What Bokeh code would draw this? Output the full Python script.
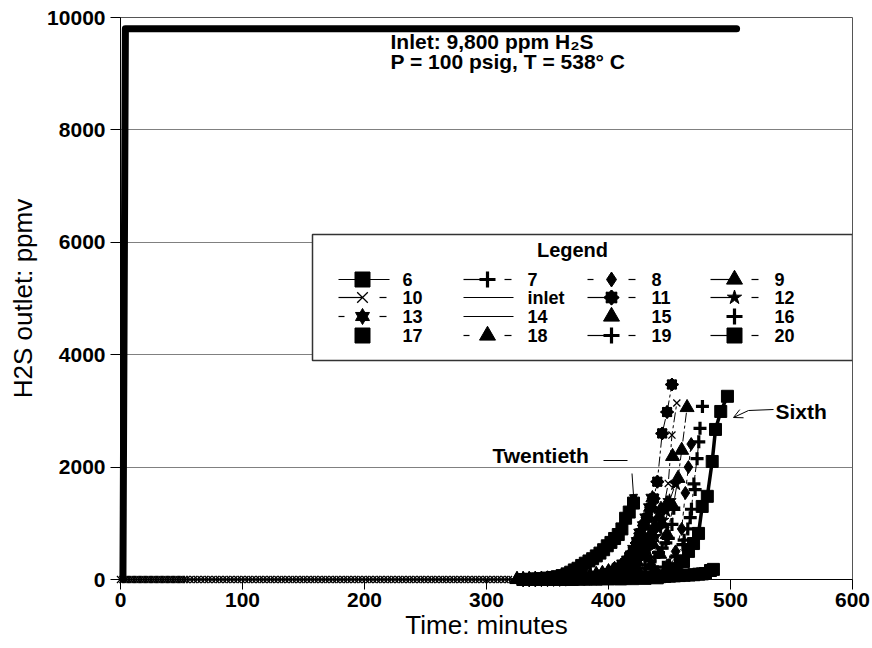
import numpy as np
from bokeh.plotting import figure
from bokeh.models import Range1d, FixedTicker, Arrow, NormalHead, OpenHead
from bokeh.core.properties import value
from bokeh.embed import file_html
from bokeh.resources import INLINE

FONT = "Liberation Sans"

# ---------------- data (minutes, ppmv) ----------------
inlet_t = [2, 4, 505]
inlet_y = [0, 9800, 9800]

s6_t = [330, 340, 350, 360, 370, 380, 390, 400, 410, 420, 430, 440, 446, 451, 456, 461.5, 465.6, 469.7, 473.8, 476.8, 481, 485, 487.7, 492, 497.5]
s6_y = [0, 0, 0, 0, 0, 5, 5, 10, 10, 15, 20, 30, 60, 130, 200, 320, 500, 640, 820, 1300, 1480, 2100, 2670, 2990, 3260]

s7_t = [330, 340, 350, 360, 370, 380, 390, 400, 410, 420, 430, 440, 450, 456, 461, 465, 468, 470, 472.6, 474, 475]
s7_y = [0, 0, 5, 5, 10, 15, 20, 30, 40, 60, 90, 140, 260, 420, 620, 900, 1250, 1700, 2150, 2450, 2690]

s8_t = [330, 340, 350, 360, 370, 380, 390, 400, 410, 420, 430, 440, 448, 455, 460, 463, 465.5, 467.8]
s8_y = [0, 0, 5, 5, 10, 10, 15, 20, 30, 40, 70, 120, 250, 500, 900, 1540, 2000, 2410]

s9_t = [325, 335, 345, 355, 365, 375, 385, 395, 405, 415, 425, 435, 442, 448, 453, 457, 460, 464.4]
s9_y = [0, 0, 5, 5, 10, 15, 20, 30, 50, 80, 130, 250, 450, 800, 1300, 1800, 2300, 3060]

s10_t = [0, 2, 4, 6, 8, 10, 12, 14, 16, 18, 20, 22, 24, 26, 28, 30, 32, 34, 36, 38, 40, 42, 44, 46, 48, 50, 52, 54,
         57, 60, 63, 66, 69, 72, 75, 78, 81, 84, 87, 90, 93, 96, 99, 102, 105, 108, 111, 114, 117, 120,
         123, 126, 129, 132, 135, 138, 141, 144, 147, 150, 153, 156, 159, 162, 165, 168, 171, 174, 177, 180,
         183, 186, 189, 192, 195, 198, 201, 204, 207, 210, 213, 216, 219, 222, 225, 228, 231, 234, 237, 240,
         243, 246, 249, 252, 255, 258, 261, 264, 267, 270, 273, 276, 279, 282, 285, 288, 291, 294, 297, 300,
         303, 306, 309, 312, 315, 318, 321,
         326, 331, 336, 341, 346, 351, 356, 361, 366, 371, 376, 381, 386, 391, 396, 401, 406, 411, 416, 421,
         426, 431, 436, 440, 444, 449, 452, 456]
s10_y = [0, 0, 0, 0, 0, 0, 0, 0, 0, 0, 0, 0, 0, 0, 0, 0, 0, 0, 0, 0, 0, 0, 0, 0, 0, 0, 0, 0,
         0, 0, 0, 0, 0, 0, 0, 0, 0, 0, 0, 0, 0, 0, 0, 0, 0, 0, 0, 0, 0, 0,
         0, 0, 0, 0, 0, 0, 0, 0, 0, 0, 0, 0, 0, 0, 0, 0, 0, 0, 0, 0,
         0, 0, 0, 0, 0, 0, 0, 0, 0, 0, 0, 0, 0, 0, 0, 0, 0, 0, 0, 0,
         0, 0, 0, 0, 0, 0, 0, 0, 0, 0, 0, 0, 0, 0, 0, 0, 0, 0, 0, 0,
         0, 0, 0, 0, 0, 0, 0,
         0, 0, 0, 5, 5, 5, 10, 10, 15, 20, 25, 30, 40, 50, 70, 100, 140, 190, 260, 340,
         450, 600, 800, 950, 1150, 1710, 2570, 3140]

s11_t = [330, 335, 340, 345, 350, 355, 360, 365, 370, 375, 380, 385, 390, 395, 400, 404, 408, 411, 414, 417,
         420, 423, 426, 429, 432, 435, 437, 440, 444, 448, 452]
s11_y = [0, 0, 5, 5, 5, 10, 10, 15, 20, 25, 30, 45, 60, 80, 100, 150, 200, 250, 300, 400,
         500, 650, 820, 960, 1100, 1280, 1440, 1740, 2600, 2980, 3470]

s12_t = [330, 335, 340, 345, 350, 355, 360, 365, 370, 375, 380, 385, 390, 395, 400, 405, 410, 414, 418, 422,
         425, 429, 432, 435, 438, 441, 444, 447, 450, 455]
s12_y = [0, 0, 0, 5, 5, 5, 10, 10, 15, 20, 25, 30, 40, 55, 80, 110, 140, 180, 220, 280,
         340, 430, 520, 640, 760, 900, 1050, 1220, 1400, 1700]

s13_t = [330, 335, 340, 345, 350, 355, 360, 365, 370, 375, 380, 385, 390, 395, 400, 404, 408, 412, 416, 419,
         421, 424, 426, 429, 431, 434, 436]
s13_y = [0, 0, 0, 5, 5, 10, 10, 15, 20, 30, 40, 55, 70, 100, 130, 170, 210, 280, 350, 440,
         540, 680, 830, 960, 1100, 1280, 1450]

s14_t = [330, 350, 370, 390, 410, 420, 430, 440, 446, 450]
s14_y = [0, 5, 15, 40, 120, 220, 400, 700, 1000, 1300]

s15_t = [330, 340, 350, 360, 370, 380, 390, 400, 410, 420, 430, 436, 444, 448, 452.5]
s15_y = [0, 5, 10, 15, 25, 40, 60, 100, 170, 260, 420, 640, 990, 1350, 2190]

s16_t = [335, 345, 355, 365, 375, 385, 395, 405, 415, 425, 435, 445, 455, 462, 467, 471, 477]
s16_y = [0, 0, 5, 5, 10, 15, 20, 30, 50, 80, 130, 220, 400, 700, 1100, 1600, 3080]

s17_t = [330, 334, 338, 342, 346, 350, 354, 358, 362, 366, 370, 374, 378, 382, 386, 390, 394, 398, 402, 406,
         410, 414, 418, 422, 426, 430, 434, 438, 442, 446, 450, 454, 458, 462, 466, 470, 474, 477, 479.5, 483.6,
         486]
s17_y = [0, 0, 0, 5, 5, 5, 5, 10, 10, 10, 10, 15, 15, 15, 20, 20, 20, 25, 25, 25,
         30, 30, 35, 35, 40, 40, 45, 45, 50, 55, 60, 65, 70, 75, 80, 85, 95, 100, 107, 160,
         180]

s18_t = [325, 330, 335, 340, 345, 350, 355, 360, 365, 370, 375, 380, 385, 390, 395, 400, 405, 410, 415, 420,
         425, 429, 432, 435, 438, 441, 443]
s18_y = [0, 0, 0, 5, 5, 10, 10, 15, 20, 30, 40, 55, 70, 90, 110, 140, 180, 230, 300, 380,
         480, 600, 700, 820, 950, 1100, 1250]

s19_t = [330, 335, 340, 345, 350, 355, 360, 365, 370, 375, 380, 385, 390, 395, 400, 405, 410, 415, 420, 425,
         430, 434, 438, 441, 444, 447, 449, 452, 453.5]
s19_y = [0, 0, 0, 5, 5, 10, 10, 15, 15, 20, 25, 30, 40, 50, 60, 80, 100, 130, 160, 200,
         260, 330, 400, 480, 560, 650, 730, 980, 1270]

s20_t = [330, 335, 340, 345, 350, 354, 358, 362, 366, 369, 372, 375, 378, 381, 384, 387, 390, 393, 396, 399,
         402, 405, 408, 411, 414, 417, 420.5]
s20_y = [0, 5, 10, 15, 25, 35, 50, 70, 100, 130, 170, 200, 250, 290, 330, 370, 420, 470, 530, 600,
         660, 730, 800, 900, 1090, 1200, 1360]

x_ticks = [0, 100, 200, 300, 400, 500, 600]
y_ticks = [0, 2000, 4000, 6000, 8000, 10000]
legend_order = ["6", "7", "8", "9", "10", "inlet", "11", "12", "13", "14", "15", "16", "17", "18", "19", "20"]

series = {
    "6": (s6_t, s6_y), "7": (s7_t, s7_y), "8": (s8_t, s8_y), "9": (s9_t, s9_y),
    "10": (s10_t, s10_y), "11": (s11_t, s11_y), "12": (s12_t, s12_y), "13": (s13_t, s13_y),
    "14": (s14_t, s14_y), "15": (s15_t, s15_y), "16": (s16_t, s16_y), "17": (s17_t, s17_y),
    "18": (s18_t, s18_y), "19": (s19_t, s19_y), "20": (s20_t, s20_y),
}

# ---------------- styles ----------------
STYLE = {
    "6": dict(marker="square", pattern="solid", lw=3.5, dash="solid"),
    "7": dict(marker="cross", pattern="line_dash", lw=1, dash="10 3 3 3"),
    "8": dict(marker="diamond", pattern="dash_dash", lw=1, dash="4 4"),
    "9": dict(marker="triangle", pattern="line_dash", lw=1, dash="10 3 3 3"),
    "10": dict(marker="x", pattern="line_dash", lw=1, dash="10 3 3 3"),
    "inlet": dict(marker=None, pattern="line", lw=1, dash="solid"),
    "11": dict(marker="burst", pattern="line_dash", lw=1, dash="10 3 3 3"),
    "12": dict(marker="star", pattern="line_dash", lw=1, dash="10 3 3 3"),
    "13": dict(marker="hexagram", pattern="dash_dash", lw=1, dash="4 4"),
    "14": dict(marker=None, pattern="line", lw=1, dash="solid"),
    "15": dict(marker="triangle", pattern="none", lw=0, dash=None),
    "16": dict(marker="cross", pattern="none", lw=0, dash=None),
    "17": dict(marker="square", pattern="none", lw=0, dash=None),
    "18": dict(marker="triangle", pattern="dash_dash", lw=1, dash="4 4"),
    "19": dict(marker="cross", pattern="line_dash", lw=1, dash="10 3 3 3"),
    "20": dict(marker="square", pattern="line_dash", lw=1, dash="10 3 3 3"),
}
DATA_SIZE = {"square": 12, "cross": 13, "diamond": 13, "triangle": 14, "x": 10,
             "burst": 13, "star": 14, "hexagram": 13}
LEG_SIZE = {"square": 15, "cross": 16, "diamond": 15, "triangle": 16, "x": 15,
            "burst": 15, "star": 15, "hexagram": 14}

p = figure(width=872, height=648, x_range=Range1d(0, 600), y_range=Range1d(0, 10000),
           output_backend="svg", toolbar_location=None,
           min_border_left=120, min_border_right=20, min_border_top=17, min_border_bottom=69)
p.background_fill_color = "white"
p.border_fill_color = "white"
p.outline_line_color = "#555555"
p.outline_line_width = 1

p.xaxis.ticker = FixedTicker(ticks=x_ticks)
p.yaxis.ticker = FixedTicker(ticks=y_ticks)
p.xgrid.visible = False
p.ygrid.grid_line_color = "#808080"
p.ygrid.grid_line_width = 1
for ax in (p.xaxis[0], p.yaxis[0]):
    ax.minor_tick_line_color = None
    ax.major_tick_in = 0
    ax.major_tick_out = 10
    ax.major_tick_line_color = "black"
    ax.axis_line_color = "black"
    ax.major_label_text_font = FONT
    ax.major_label_text_font_size = "21px"
    ax.major_label_text_font_style = "bold"
    ax.major_label_text_color = "black"
    ax.axis_label_text_font = FONT
    ax.axis_label_text_font_size = "26px"
    ax.axis_label_text_font_style = "normal"
    ax.axis_label_text_color = "black"
p.xaxis.axis_label = "Time: minutes"
p.yaxis.axis_label = "H2S outlet: ppmv"
p.xaxis.major_label_standoff = 3
p.xaxis.axis_label_standoff = 0
p.yaxis.major_label_standoff = 5
p.yaxis.axis_label_standoff = 6


def draw_markers(t, y, kind, size, level="glyph"):
    if kind == "burst":
        p.scatter(t, y, marker="square", size=size * 0.7, color="black", level=level)
        p.scatter(t, y, marker="square", size=size * 0.7, angle=np.pi / 4, color="black", level=level)
        p.scatter(t, y, marker="asterisk", size=size, line_color="black", line_width=2, level=level)
    elif kind == "hexagram":
        p.scatter(t, y, marker="triangle", size=size, color="black", level=level)
        p.scatter(t, y, marker="inverted_triangle", size=size, color="black", level=level)
    elif kind == "cross":
        p.scatter(t, y, marker="cross", size=size, line_color="black", line_width=3.2, level=level)
    elif kind == "x":
        p.scatter(t, y, marker="x", size=size, line_color="black", line_width=1.3, level=level)
    else:
        p.scatter(t, y, marker=kind, size=size, color="black", level=level)


DATA_LEVEL = "annotation"

# inlet
p.line(inlet_t, inlet_y, line_color="black", line_width=7, line_cap="round", line_join="round",
       level=DATA_LEVEL)

# breakthrough series (draw later runs first so 6 ends on top)
for name in ["20", "19", "18", "17", "16", "15", "14", "13", "12", "11", "10", "9", "8", "7", "6"]:
    t, y = series[name]
    st = STYLE[name]
    if st["dash"] is not None:
        p.line(t, y, line_color="black", line_width=st["lw"], line_dash=st["dash"], level=DATA_LEVEL)
    if st["marker"] is not None:
        draw_markers(t, y, st["marker"], DATA_SIZE[st["marker"]], level=DATA_LEVEL)


# ---------------- layout helpers (screen px -> data) ----------------
def X(px):
    return (px - 120) * 600.0 / 732.0


def Y(py):
    return (579 - py) * 10000.0 / 562.0


# legend box
p.quad(left=[X(312)], right=[X(852)], top=[Y(234)], bottom=[Y(360)],
       fill_color="white", line_color="#333333", line_width=1.5)
p.text(x=[X(572)], y=[Y(249)], text=["Legend"], text_font=value(FONT), text_font_size="20px",
       text_font_style="bold", text_align="center", text_baseline="middle")

LEG_COLS = [338, 463, 587, 710]
LEG_ROWS = [279, 297, 316, 335]
seg_x0, seg_x1, seg_y = [], [], []
lab_x, lab_y, lab_t = [], [], []
leg_marks = {}
for i, name in enumerate(legend_order):
    x0 = LEG_COLS[i % 4]
    yy = LEG_ROWS[i // 4]
    pat = STYLE[name]["pattern"]
    segs = []
    if pat == "solid":
        segs = [(x0, x0 + 51)]
    elif pat == "line_dash":
        segs = [(x0, x0 + 24), (x0 + 41, x0 + 48)]
    elif pat == "dash_dash":
        segs = [(x0, x0 + 6), (x0 + 41, x0 + 48)]
    elif pat == "line":
        segs = [(x0, x0 + 50)]
    for a, b in segs:
        seg_x0.append(X(a)); seg_x1.append(X(b)); seg_y.append(Y(yy))
    mk = STYLE[name]["marker"]
    if mk is not None:
        leg_marks.setdefault(mk, ([], []))
        leg_marks[mk][0].append(X(x0 + 24))
        leg_marks[mk][1].append(Y(yy))
    lab_x.append(X(x0 + 64)); lab_y.append(Y(yy)); lab_t.append(name)

p.segment(x0=seg_x0, y0=seg_y, x1=seg_x1, y1=seg_y, line_color="black", line_width=1.2)
for mk, (mx, my) in leg_marks.items():
    draw_markers(mx, my, mk, LEG_SIZE[mk])
p.text(x=lab_x, y=lab_y, text=lab_t, text_font=value(FONT), text_font_size="18px",
       text_font_style="bold", text_align="left", text_baseline="middle")

# annotations
p.text(x=[X(390), X(390)], y=[Y(41), Y(61)],
       text=["Inlet: 9,800 ppm H\u2082S", "P = 100 psig, T = 538\u00b0 C"],
       text_font=value(FONT), text_font_size="21px", text_font_style="bold",
       text_align="left", text_baseline="middle")
p.text(x=[X(492)], y=[Y(455)], text=["Twentieth"], text_font=value(FONT), text_font_size="21px",
       text_font_style="bold", text_align="left", text_baseline="middle")
p.segment(x0=[X(603)], y0=[Y(460)], x1=[X(627)], y1=[Y(460)], line_color="black", line_width=1)
p.add_layout(Arrow(end=NormalHead(size=8, fill_color="black", line_color="black"),
                   x_start=X(631.5), y_start=Y(473), x_end=X(633.5), y_end=Y(502),
                   line_color="black", line_width=1))
p.text(x=[X(775)], y=[Y(411)], text=["Sixth"], text_font=value(FONT), text_font_size="21px",
       text_font_style="bold", text_align="left", text_baseline="middle")
p.segment(x0=[X(773)], y0=[Y(409)], x1=[X(748)], y1=[Y(410)], line_color="black", line_width=1)
p.add_layout(Arrow(end=OpenHead(size=9, line_color="black", line_width=1),
                   x_start=X(748), y_start=Y(410), x_end=X(733), y_end=Y(417),
                   line_color="black", line_width=1))

open("out.html", "w").write(file_html(p, INLINE))
